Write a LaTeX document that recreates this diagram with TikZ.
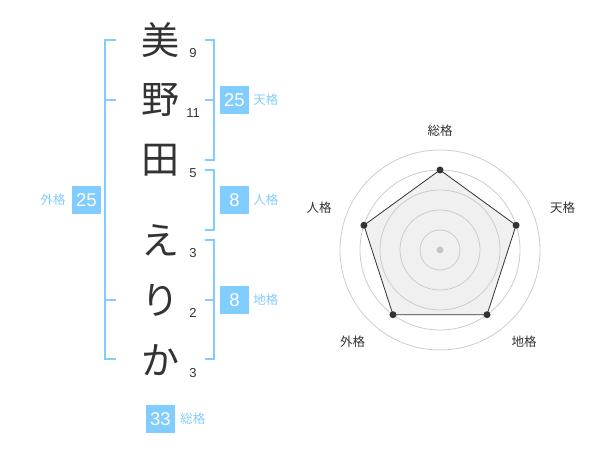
\documentclass[tikz,border=0pt]{standalone}
\usepackage{fontspec}
\setmainfont{Liberation Sans}
\newfontfamily\jp{Noto Sans CJK JP}
\usetikzlibrary{calc,positioning}
\definecolor{kakublue}{RGB}{130,205,255}
\definecolor{kakutext}{RGB}{51,51,51}
\tikzset{
  kanji/.style={font=\jp\fontsize{38}{38}\selectfont, text=kakutext, inner sep=0pt},
  kakusu/.style={font=\fontsize{13}{13}\selectfont, text=kakutext, inner sep=0pt},
  kakubox/.style={fill=kakublue, text=white, font=\fontsize{18.5}{18.5}\selectfont, minimum width=29pt, minimum height=28pt, inner sep=0pt},
  kakuname/.style={text=kakublue, font=\jp\fontsize{12.5}{12.5}\selectfont, inner sep=0pt},
  bracket/.style={kakublue, line width=2pt},
  radarname/.style={text=kakutext, font=\jp\fontsize{12.5}{12.5}\selectfont, inner sep=0pt},
}
\begin{document}
\begin{tikzpicture}[x=1pt,y=-1pt]
            \useasboundingbox (0,0) rectangle (600,470);
            \node[kanji] (c1) at (160,40) {美};
            \node[kanji] (c2) at (160,100) {野};
            \node[kanji] (c3) at (160,160) {田};
            \node[kanji] (c4) at (160,240) {え};
            \node[kanji] (c5) at (160,300) {り};
            \node[kanji] (c6) at (160,360) {か};
            \foreach \y/\n in {53/9,113/11,173/5,253/3,313/2,373/3}
                \node[kakusu] at (193,\y) {\n};
            \draw[bracket] (116,40) -- (105,40) -- (105,359) -- (116,359);
            \draw[bracket] (105,100) -- (116,100) (105,300) -- (116,300);
            \draw[bracket] (205,40) -- (214,40) -- (214,160) -- (205,160) (205,100) -- (214,100);
            \draw[bracket] (205,170) -- (214,170) -- (214,230) -- (205,230);
            \draw[bracket] (205,240) -- (214,240) -- (214,359) -- (205,359) (205,300) -- (214,300);
            \node[kakubox] (ten) at (234.5,100) {25};
            \node[kakuname, right=4pt of ten] {天格};
            \node[kakubox] (jin) at (234.5,200) {8};
            \node[kakuname, right=4pt of jin] {人格};
            \node[kakubox] (chi) at (234.5,300) {8};
            \node[kakuname, right=4pt of chi] {地格};
            \node[kakubox] (gai) at (86.5,200) {25};
            \node[kakuname, left=6pt of gai] {外格};
            \node[kakubox] (sou) at (160.5,419) {33};
            \node[kakuname, right=5pt of sou] {総格};
            \coordinate (o) at (440,250);
            \foreach \a/\n in {90/rsou,18/rten,-54/rchi,-126/rgai,162/rjin}
                \coordinate (\n) at ($(o)+(\a:80pt)$);
            \fill[gray!12] (rsou) -- (rten) -- (rchi) -- (rgai) -- (rjin) -- cycle;
            \foreach \r in {20,40,...,100}
                \draw[gray!40, line width=0.8pt] (o) circle (\r pt);
            \draw[kakutext, line width=0.8pt] (rsou) -- (rten) -- (rchi) -- (rgai) -- (rjin) -- cycle;
            \fill[gray!45] (o) circle (3.5pt);
            \foreach \n in {rsou,rten,rchi,rgai,rjin}
                \fill[kakutext] (\n) circle (3.5pt);
            \node[radarname] at (440,131) {総格};
            \node[radarname] at (562.5,208) {天格};
            \node[radarname] at (524,342) {地格};
            \node[radarname] at (352.5,342) {外格};
            \node[radarname] at (319,208) {人格};
        \end{tikzpicture}
\end{document}
